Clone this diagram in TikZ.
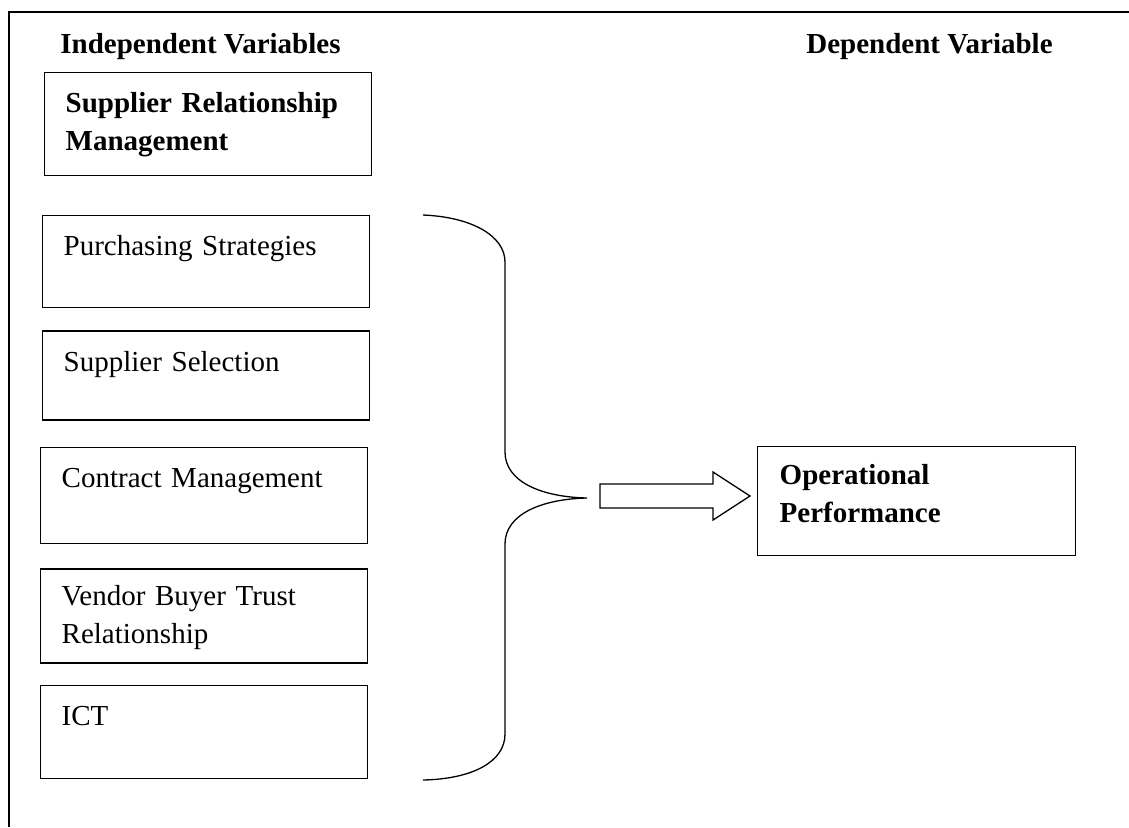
\documentclass[tikz,border=0pt]{standalone}
\usepackage{fontspec}
\setmainfont{Liberation Serif}
\usetikzlibrary{positioning}
\tikzset{
    varbox/.style={
           rectangle,
           draw=black, line width=0.7pt,
           anchor=north west,
           align=left,
           text width=142.5pt,
           inner xsep=10.5pt,
           inner ysep=0pt,
           text height=20pt,
           },
    heading/.style={
           anchor=base west,
           inner sep=0pt,
           },
    bracket/.style={
           draw=black, line width=0.65pt,
           },
}

\begin{document}
\fontsize{14.5}{19}\selectfont
\begin{tikzpicture}[x=0.5pt,y=-0.5pt]
 \useasboundingbox (0,0) rectangle (1129,827);

 % frame: only top and left edges are visible
 \draw[line width=0.8pt] (9,827) |- (1129,12);

 % column titles
 \node[heading] (INDEP) at (60,53) {\textbf{Independent Variables}};
 \node[heading] (DEP) at (806,53) {\textbf{Dependent Variable}};

 % STATE SRM
 \node[varbox, text depth=31.5pt] (SRM) at (44,72)
 {\textbf{Supplier Relationship}\\\textbf{Management}};

 % the five independent variables, stacked below each other
 \node[varbox, text depth=26pt] (PURCH) at (42,215) {Purchasing Strategies};
 \node[varbox, text depth=24.5pt,
  below=11pt of PURCH.south west, anchor=north west] (SELECT) {Supplier Selection};
 \node[varbox, text depth=28pt,
  below=13pt of SELECT.south west, anchor=north west,
  xshift=-1pt] (CONTRACT) {Contract Management};
 \node[varbox, text height=18.5pt, text depth=28.5pt,
  below=12pt of CONTRACT.south west, anchor=north west] (TRUST)
 {Vendor Buyer Trust\\Relationship};
 \node[varbox, text depth=26.5pt,
  below=10.5pt of TRUST.south west, anchor=north west] (ICT) {ICT};

 % STATE OPERATIONAL PERFORMANCE
 \node[varbox, text width=137pt, inner xsep=11pt,
  text height=19pt, text depth=35.5pt] (OPER) at (757,446)
 {\textbf{Operational}\\\textbf{Performance}};

 % curly bracket grouping the variables
 \coordinate (BTOP) at (423,215);
 \coordinate (BTIP) at (587,498);
 \coordinate (BBOT) at (423,780);
 \draw[bracket] (BTOP) .. controls (472,217) and (505,236) .. (505,262)
  -- (505,452) .. controls (505,482) and (542,497) .. (BTIP)
  .. controls (542,499) and (505,514) .. (505,544)
  -- (505,734) .. controls (505,762) and (472,779) .. (BBOT);

 % block arrow towards the dependent variable
 \draw[bracket] (600,484) -- (713,484) -- (713,472) -- (750,496)
  -- (713,520) -- (713,508) -- (600,508) -- cycle;

\end{tikzpicture}
\end{document}
